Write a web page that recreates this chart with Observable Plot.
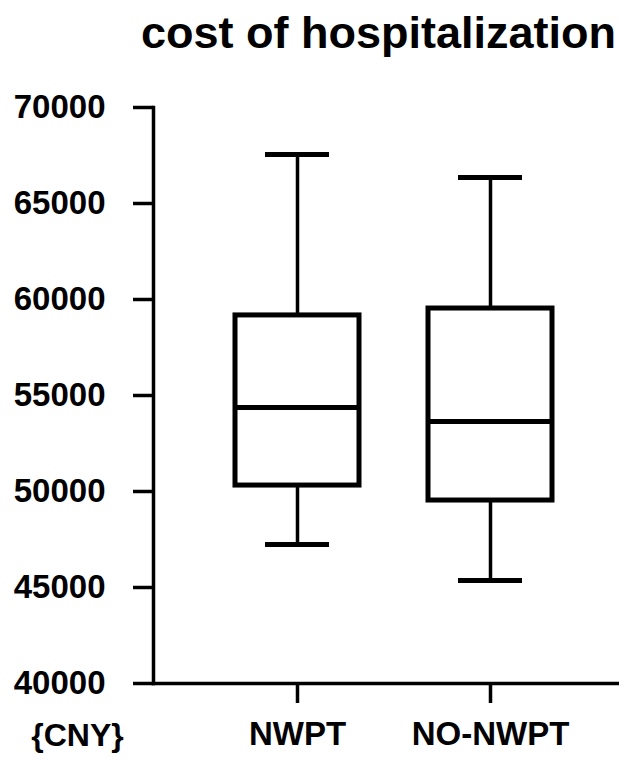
<!DOCTYPE html>
<html>
<head>
<meta charset="utf-8">
<script src="https://cdn.jsdelivr.net/npm/d3@7"></script>
<script src="https://cdn.jsdelivr.net/npm/@observablehq/plot@0.6"></script>
<style>
  html, body { margin: 0; padding: 0; background: #fff; }
  svg { font-family: "Liberation Sans", Arial, Helvetica, sans-serif; }
</style>
</head>
<body>
<div id="chart"></div>
<script>
const groups = ["NWPT", "NO-NWPT"];
const whiskerLow = [47240, 45370];
const q1 = [50310, 49530];
const median = [54380, 53650];
const q3 = [59170, 59530];
const whiskerHigh = [67550, 66350];
const yTicks = [40000, 45000, 50000, 55000, 60000, 65000, 70000];
const title = "cost of hospitalization";
const unit = "{CNY}";

const data = groups.map((g, i) => ({
  group: g, lo: whiskerLow[i], q1: q1[i], med: median[i], q3: q3[i], hi: whiskerHigh[i]
}));

const font = "Liberation Sans, Arial, Helvetica, sans-serif";

const chart = Plot.plot({
  width: 619,
  height: 762,
  marginTop: 107,
  marginBottom: 79,
  marginLeft: 153,
  marginRight: 0,
  style: { fontFamily: font, background: "#fff", overflow: "visible" },
  x: { type: "band", domain: groups, range: [172, 614.3], paddingInner: 0.36, paddingOuter: 0.32, axis: null },
  y: { domain: [40000, 70000], axis: null },
  marks: [
    // whiskers
    Plot.ruleX(data, { x: "group", y1: "q3", y2: "hi", stroke: "black", strokeWidth: 3.5 }),
    Plot.ruleX(data, { x: "group", y1: "lo", y2: "q1", stroke: "black", strokeWidth: 3.5 }),
    Plot.tickY(data, { x: "group", y: "hi", inset: 30, stroke: "black", strokeWidth: 5 }),
    Plot.tickY(data, { x: "group", y: "lo", inset: 30, stroke: "black", strokeWidth: 5 }),
    // boxes
    Plot.rectY(data, { x: "group", y1: "q1", y2: "q3", fill: "white", stroke: "black", strokeWidth: 5 }),
    Plot.tickY(data, { x: "group", y: "med", stroke: "black", strokeWidth: 5 }),
    // axes
    Plot.axisY({
      ticks: yTicks, tickSize: 20, tickPadding: 28, tickFormat: d => String(d),
      fontSize: 33, fontWeight: "bold", strokeWidth: 3.5, stroke: "black", fill: "black", label: null
    }),
    Plot.axisX({
      tickSize: 20, tickPadding: 18, fontSize: 33, fontWeight: "bold",
      strokeWidth: 3.5, stroke: "black", fill: "black", label: null
    }),
    Plot.frame({ anchor: "left", stroke: "black", strokeWidth: 3.5 }),
    Plot.frame({ anchor: "bottom", stroke: "black", strokeWidth: 3.5 }),
    // title
    Plot.text([title], {
      frameAnchor: "top", text: d => d, dx: -8, dy: -60, lineAnchor: "bottom",
      fontSize: 45, fontWeight: "bold", fill: "black"
    }),
    // unit label
    Plot.text([unit], {
      frameAnchor: "bottom-left", text: d => d, dx: -76, dy: 62, lineAnchor: "bottom",
      textAnchor: "middle", fontSize: 32, fontWeight: "bold", fill: "black"
    })
  ]
});

document.getElementById("chart").appendChild(chart);
</script>
</body>
</html>
